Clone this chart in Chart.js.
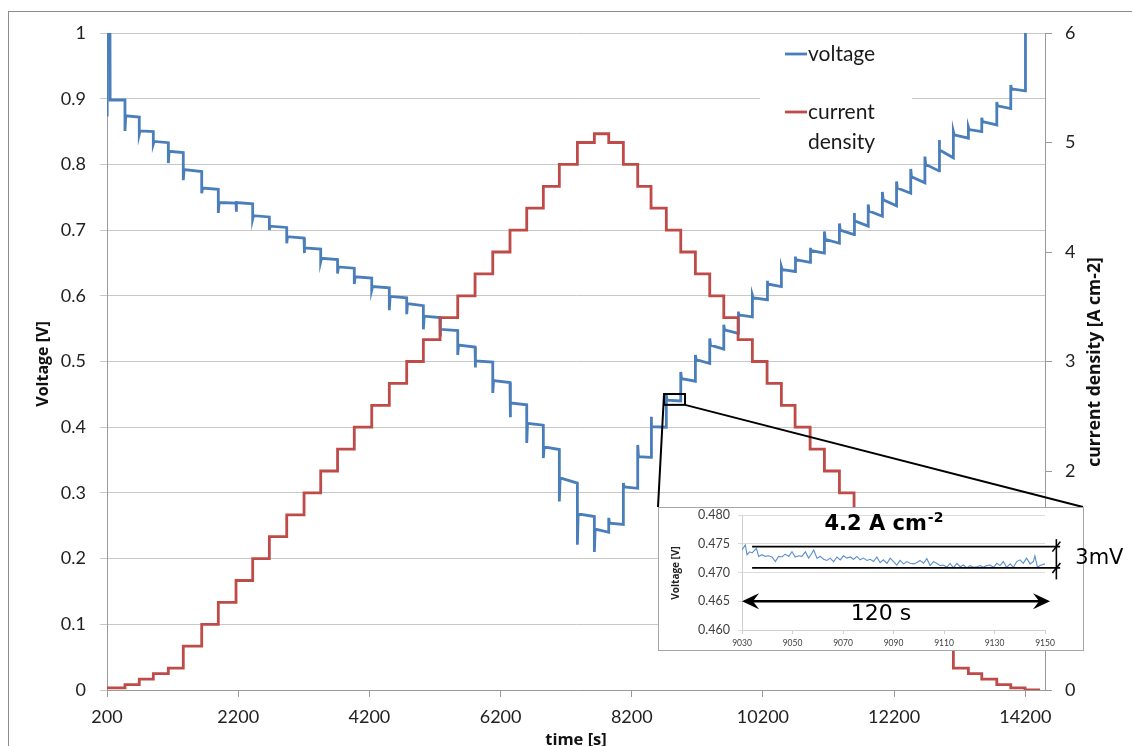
<!DOCTYPE html>
<html><head><meta charset="utf-8">
<script src="https://cdn.jsdelivr.net/npm/chart.js@4.4.0/dist/chart.umd.min.js"></script>
<style>
html,body{margin:0;padding:0;background:#fff;}
#wrap{position:relative;width:1132px;height:746px;overflow:hidden;}
#main{position:absolute;left:0;top:0;}
#inset{position:absolute;left:650px;top:495px;}
</style></head><body>
<div id="wrap"><canvas id="main" width="1132" height="746"></canvas><canvas id="inset" width="482" height="165"></canvas></div>
<script>
// ---------------- DATA ----------------
const xTickValues = [200, 2200, 4200, 6200, 8200, 10200, 12200, 14200];
const startTime = 200;
const startCurrent = 0.02;
const endTime = 14425;
// times at which the current density is changed [s]
const stepTimes = [474, 692, 906, 1135, 1363, 1644, 1897, 2167, 2421, 2675, 2940, 3204, 3458, 3715, 3970, 4236, 4504, 4769, 5023, 5277, 5547, 5811, 6081, 6344, 6599, 6852, 7096, 7371, 7630,
  7849, 8072, 8291, 8494, 8727, 8947, 9170, 9389, 9603, 9821, 10039, 10263, 10481, 10690, 10919, 11137, 11366, 11589, 11805, 12021, 12237, 12453, 12669, 12885, 13103, 13332, 13536, 13765, 13978, 14196];
// current density after each change [A cm-2]
const currentLevels = [0.05, 0.1, 0.15, 0.2, 0.4, 0.6, 0.8, 1.0, 1.2, 1.4, 1.6, 1.8, 2.0, 2.2, 2.4, 2.6, 2.8, 3.0, 3.2, 3.4, 3.6, 3.8, 4.0, 4.2, 4.4, 4.6, 4.8, 5.0, 5.08,
  5.0, 4.8, 4.6, 4.4, 4.2, 4.0, 3.8, 3.6, 3.4, 3.2, 3.0, 2.8, 2.6, 2.4, 2.2, 2.0, 1.8, 1.6, 1.4, 1.2, 1.0, 0.8, 0.6, 0.4, 0.2, 0.15, 0.1, 0.05, 0.02, 0.0];
// open-circuit start of the voltage trace
const ocvTimes = [200, 203, 244, 248];
const ocvValues = [0.875, 1.05, 1.05, 0.898];
// voltage at each change: transient extreme, settled value, value at end of the step [V]
const vSpike = [0.851, 0.846, 0.831, 0.802, 0.776, 0.756, 0.726, 0.728, 0.717, 0.700, 0.680, 0.665, 0.652, 0.634, 0.618, 0.609, 0.578, 0.572, 0.549, 0.538, 0.510, 0.491, 0.452, 0.415, 0.376, 0.353, 0.287, 0.221, 0.210,
  0.262, 0.315, 0.373, 0.416, 0.449, 0.484, 0.510, 0.535, 0.556, 0.576, 0.601, 0.623, 0.644, 0.660, 0.673, 0.698, 0.710, 0.726, 0.739, 0.758, 0.774, 0.793, 0.812, 0.837, 0.850, 0.857, 0.871, 0.895, 0.921, 1.05];
const vStart = [0.874, 0.851, 0.835, 0.820, 0.792, 0.764, 0.742, 0.742, 0.722, 0.706, 0.690, 0.673, 0.657, 0.644, 0.629, 0.614, 0.599, 0.588, 0.569, 0.549, 0.525, 0.501, 0.471, 0.437, 0.406, 0.370, 0.323, 0.268, 0.245,
  0.254, 0.309, 0.355, 0.401, 0.441, 0.474, 0.503, 0.525, 0.548, 0.571, 0.597, 0.618, 0.640, 0.655, 0.669, 0.686, 0.700, 0.714, 0.729, 0.746, 0.764, 0.781, 0.800, 0.822, 0.845, 0.853, 0.865, 0.889, 0.915, 1.05];
const vEnd = [0.872, 0.850, 0.833, 0.818, 0.789, 0.762, 0.741, 0.740, 0.720, 0.704, 0.688, 0.671, 0.655, 0.642, 0.627, 0.612, 0.597, 0.585, 0.567, 0.547, 0.522, 0.499, 0.468, 0.434, 0.403, 0.366, 0.315, 0.264, 0.240,
  0.252, 0.307, 0.354, 0.400, 0.440, 0.470, 0.497, 0.519, 0.543, 0.568, 0.594, 0.614, 0.637, 0.651, 0.665, 0.680, 0.693, 0.706, 0.721, 0.737, 0.756, 0.772, 0.790, 0.810, 0.840, 0.850, 0.860, 0.885, 0.912, 1.05];
// zoomed window (inset)
const insetTime = [9030.0, 9031.3, 9032.0, 9033.0, 9034.0, 9035.7, 9036.6, 9037.9, 9039.2, 9040.5, 9041.9, 9043.2, 9044.5, 9045.8, 9047.1, 9048.5, 9049.8, 9051.1, 9052.4, 9053.7, 9055.1, 9056.4, 9057.7, 9058.4, 9059.7, 9061.0, 9062.3, 9063.6, 9064.9, 9066.3, 9067.6, 9068.9, 9070.2, 9071.5, 9072.9, 9074.2, 9075.5, 9076.8, 9078.1, 9079.5, 9080.8, 9082.1, 9083.4, 9084.7, 9086.0, 9087.4, 9088.7, 9090.0, 9091.3, 9092.6, 9094.0, 9095.3, 9096.6, 9097.9, 9099.2, 9100.5, 9101.9, 9103.2, 9104.5, 9105.8, 9107.1, 9108.5, 9109.8, 9111.1, 9112.4, 9113.7, 9115.1, 9116.4, 9117.7, 9119.0, 9120.3, 9121.6, 9123.0, 9124.3, 9125.6, 9126.9, 9128.2, 9129.6, 9130.9, 9132.2, 9133.5, 9134.8, 9136.2, 9137.5, 9138.8, 9140.1, 9141.4, 9142.7, 9144.1, 9145.4, 9146.0, 9147.0, 9148.0, 9150.0];
const insetVolt = [0.4739, 0.4748, 0.4731, 0.4736, 0.4734, 0.4742, 0.4728, 0.4731, 0.4728, 0.4729, 0.4727, 0.4719, 0.4728, 0.4727, 0.4732, 0.4728, 0.4736, 0.4727, 0.4729, 0.4728, 0.4736, 0.4725, 0.4734, 0.4739, 0.4725, 0.4728, 0.4723, 0.4721, 0.4725, 0.4719, 0.4727, 0.4722, 0.4729, 0.4725, 0.4727, 0.4723, 0.4728, 0.4722, 0.4725, 0.4721, 0.4723, 0.4719, 0.4727, 0.4717, 0.4722, 0.4716, 0.4725, 0.4719, 0.4713, 0.4721, 0.4715, 0.4719, 0.4716, 0.4715, 0.4717, 0.4721, 0.4716, 0.4724, 0.4712, 0.4719, 0.4716, 0.4712, 0.4713, 0.4709, 0.4716, 0.4708, 0.4716, 0.4710, 0.4713, 0.4708, 0.4712, 0.4709, 0.4710, 0.4712, 0.4709, 0.4712, 0.4713, 0.4709, 0.4716, 0.4712, 0.4719, 0.4709, 0.4715, 0.4709, 0.4719, 0.4722, 0.4716, 0.4725, 0.4715, 0.4719, 0.4729, 0.4709, 0.4712, 0.4715];
const insetXTicks = [9030, 9050, 9070, 9090, 9110, 9130, 9150];
const insetYTicks = [0.460, 0.465, 0.470, 0.475, 0.480];
const insetTitle = '4.2 A cm';
const insetTitleSup = '-2';
const bandTop = 0.4745, bandBottom = 0.4708;       // 3 mV band
const zoomWindow = {t0: 8692, t1: 9012, v0: 0.434, v1: 0.4505};

// ---------------- STYLE ----------------
const BLUE = '#4a7ebb', RED = '#be4b48', INSET_BLUE = '#5b8fd0';
const GRID = '#c8c8c8', AXIS = '#9a9a9a', TXT = '#222';
const FONT = 'Lato';
const TITLE_FONT = '"Open Sans"';
const SETTLE = 12;
const INSET_POS = {left: 650, top: 495, boxL: 8, boxT: 12, boxR: 433, boxB: 155};

// ---------------- BUILD SERIES ----------------
const currentPts = [{x: startTime, y: startCurrent}];
stepTimes.forEach((t, i) => currentPts.push({x: t, y: currentLevels[i]}));
currentPts.push({x: endTime, y: currentLevels[currentLevels.length - 1]});

const voltagePts = ocvTimes.map((t, i) => ({x: t, y: ocvValues[i]}));
let prevV = ocvValues[ocvValues.length - 1];
stepTimes.forEach((t, i) => {
  voltagePts.push({x: t, y: prevV}, {x: t, y: vSpike[i]}, {x: t + SETTLE, y: vStart[i]});
  prevV = vEnd[i];
});
voltagePts.push({x: endTime, y: prevV});

const insetPts = insetTime.map((t, i) => ({x: t, y: insetVolt[i]}));

// ---------------- MAIN CHART ----------------
const mainDecor = {
  id: 'mainDecor',
  beforeDraw(chart) {
    const c = chart.ctx; c.save();
    c.fillStyle = '#fff'; c.fillRect(0, 0, chart.width, chart.height);
    c.strokeStyle = '#8c8c8c'; c.lineWidth = 1; c.strokeRect(8.5, 11.5, 1400, 900);
    c.restore();
  },
  beforeDatasetsDraw(chart) {
    const c = chart.ctx; c.save();
    c.fillStyle = '#fff'; c.fillRect(760, 40, 152, 116);
    c.restore();
  },
  afterDatasetsDraw(chart) {
    const c = chart.ctx, xs = chart.scales.x, ys = chart.scales.y;
    c.save();
    // zoom rectangle and connectors
    const x0 = xs.getPixelForValue(zoomWindow.t0), x1 = xs.getPixelForValue(zoomWindow.t1);
    const y0 = ys.getPixelForValue(zoomWindow.v1), y1 = ys.getPixelForValue(zoomWindow.v0);
    c.strokeStyle = '#000'; c.lineWidth = 2;
    c.strokeRect(x0, y0, x1 - x0, y1 - y0);
    c.beginPath();
    c.moveTo(x0, y0); c.lineTo(INSET_POS.left + INSET_POS.boxL, INSET_POS.top + INSET_POS.boxT);
    c.moveTo(x1, y1); c.lineTo(INSET_POS.left + INSET_POS.boxR, INSET_POS.top + INSET_POS.boxT);
    c.stroke();
    // legend
    c.lineWidth = 2.8;
    c.strokeStyle = BLUE; c.beginPath(); c.moveTo(785, 54); c.lineTo(807, 54); c.stroke();
    c.strokeStyle = RED; c.beginPath(); c.moveTo(785, 112); c.lineTo(807, 112); c.stroke();
    c.fillStyle = '#1a1a1a'; c.font = '21px ' + FONT; c.textBaseline = 'middle'; c.textAlign = 'left';
    c.fillText('voltage', 808, 54);
    c.fillText('current', 808, 112);
    c.fillText('density', 808, 142);
    c.restore();
  },
  afterDraw(chart) {
    const c = chart.ctx; c.save();
    c.fillStyle = '#111'; c.textAlign = 'center'; c.textBaseline = 'middle';
    c.font = 'bold 16px ' + TITLE_FONT;
    c.save(); c.translate(43, 364); c.rotate(-Math.PI / 2); c.fillText('Voltage [V]', 0, 0); c.restore();
    c.font = 'bold 17.5px ' + TITLE_FONT;
    c.save(); c.translate(1095, 362); c.rotate(-Math.PI / 2); c.fillText('current density [A cm-2]', 0, 0); c.restore();
    c.font = 'bold 16.5px ' + TITLE_FONT;
    c.fillText('time [s]', 576, 740);
    c.restore();
  }
};

const tickFont = {family: FONT, size: 18};
new Chart(document.getElementById('main'), {
  type: 'line',
  data: {datasets: [
    {label: 'voltage', data: voltagePts, yAxisID: 'y', borderColor: BLUE, borderWidth: 2.8, pointRadius: 0, tension: 0, fill: false, order: 1},
    {label: 'current density', data: currentPts, yAxisID: 'y1', borderColor: RED, borderWidth: 2.8, pointRadius: 0, stepped: true, fill: false, order: 0}
  ]},
  options: {
    responsive: false, animation: false, devicePixelRatio: 1,
    layout: {padding: {top: 33, left: 0, right: 0, bottom: 0}},
    plugins: {legend: {display: false}, tooltip: {enabled: false}},
    scales: {
      x: {type: 'linear', min: 200, max: 14500,
        afterBuildTicks: s => { s.ticks = xTickValues.map(v => ({value: v})); },
        afterFit: s => { s.height = 56; },
        grid: {drawOnChartArea: false, tickLength: 7, color: AXIS},
        border: {color: AXIS},
        ticks: {font: tickFont, color: TXT, padding: 9, maxRotation: 0, autoSkip: false, callback: v => String(v)}},
      y: {position: 'left', min: 0, max: 1,
        afterFit: s => { s.width = 107; },
        grid: {color: GRID, tickLength: 7},
        border: {color: AXIS},
        ticks: {stepSize: 0.1, font: tickFont, color: TXT, padding: 14, callback: v => String(+v.toFixed(1))}},
      y1: {position: 'right', min: 0, max: 6,
        afterFit: s => { s.width = 87; },
        grid: {drawOnChartArea: false, tickLength: 7, color: AXIS},
        border: {color: AXIS},
        ticks: {stepSize: 1, font: tickFont, color: TXT, padding: 13, callback: v => String(v)}}
    }
  },
  plugins: [mainDecor]
});

// ---------------- INSET CHART ----------------
function arrowHead(c, x, y, dir) {
  c.beginPath();
  c.moveTo(x, y);
  c.lineTo(x - dir * 17, y - 8);
  c.lineTo(x - dir * 11, y);
  c.lineTo(x - dir * 17, y + 8);
  c.closePath(); c.fill();
}
const insetDecor = {
  id: 'insetDecor',
  beforeDraw(chart) {
    const c = chart.ctx, b = INSET_POS; c.save();
    c.fillStyle = '#fff'; c.fillRect(b.boxL, b.boxT, b.boxR - b.boxL, b.boxB - b.boxT);
    c.strokeStyle = '#a6a6a6'; c.lineWidth = 1;
    c.strokeRect(b.boxL + 0.5, b.boxT + 0.5, b.boxR - b.boxL, b.boxB - b.boxT);
    c.restore();
  },
  afterDraw(chart) {
    const c = chart.ctx, xs = chart.scales.x, ys = chart.scales.y; c.save();
    c.fillStyle = '#000'; c.strokeStyle = '#000';
    // band lines
    c.lineWidth = 1.6;
    const lx0 = xs.getPixelForValue(9034), lx1 = xs.getPixelForValue(9156);
    [bandTop, bandBottom].forEach(v => {
      const y = ys.getPixelForValue(v);
      c.beginPath(); c.moveTo(lx0, y); c.lineTo(lx1, y); c.stroke();
    });
    // dimension marker
    const dx = xs.getPixelForValue(9154.5);
    const dy0 = ys.getPixelForValue(0.4758), dy1 = ys.getPixelForValue(0.4688);
    c.lineWidth = 1.6;
    c.beginPath(); c.moveTo(dx, dy0); c.lineTo(dx, dy1); c.stroke();
    [bandTop, bandBottom].forEach(v => {
      const y = ys.getPixelForValue(v);
      c.beginPath(); c.moveTo(dx - 4, y + 5); c.lineTo(dx + 4, y - 5); c.stroke();
    });
    // 120 s double arrow
    const ay = ys.getPixelForValue(0.465);
    const ax0 = xs.getPixelForValue(9030), ax1 = xs.getPixelForValue(9152);
    c.lineWidth = 2.6;
    c.beginPath(); c.moveTo(ax0 + 8, ay); c.lineTo(ax1 - 8, ay); c.stroke();
    arrowHead(c, ax0, ay, -1); arrowHead(c, ax1, ay, 1);
    // texts
    c.textBaseline = 'middle';
    c.font = '22px "DejaVu Sans"'; c.textAlign = 'center';
    c.fillText('120 s', xs.getPixelForValue(9085), ys.getPixelForValue(0.4628));
    c.textAlign = 'left'; c.font = '21px "DejaVu Sans"';
    c.fillText('3mV', xs.getPixelForValue(9162), ys.getPixelForValue(0.47247));
    // title with superscript
    c.font = 'bold 21px "DejaVu Sans"';
    const w1 = c.measureText(insetTitle).width;
    c.font = 'bold 14px "DejaVu Sans"';
    const w2 = c.measureText(insetTitleSup).width;
    const tx = xs.getPixelForValue(9086) - (w1 + w2) / 2, ty = ys.getPixelForValue(0.47826);
    c.font = 'bold 21px "DejaVu Sans"'; c.fillText(insetTitle, tx, ty);
    c.font = 'bold 14px "DejaVu Sans"'; c.fillText(insetTitleSup, tx + w1 + 1, ty - 7);
    // y title
    c.font = 'bold 10px ' + TITLE_FONT; c.textAlign = 'center'; c.fillStyle = '#222';
    c.save(); c.translate(26, 78); c.rotate(-Math.PI / 2); c.fillText('Voltage [V]', 0, 0); c.restore();
    c.restore();
  }
};

new Chart(document.getElementById('inset'), {
  type: 'line',
  data: {datasets: [{label: 'voltage', data: insetPts, borderColor: INSET_BLUE, borderWidth: 1.1, pointRadius: 0, tension: 0, fill: false}]},
  options: {
    responsive: false, animation: false, devicePixelRatio: 1,
    layout: {padding: {top: 20, left: 32, right: 87, bottom: 8}},
    plugins: {legend: {display: false}, tooltip: {enabled: false}},
    scales: {
      x: {type: 'linear', min: 9030, max: 9150,
        afterBuildTicks: s => { s.ticks = insetXTicks.map(v => ({value: v})); },
        afterFit: s => { s.height = 22; },
        grid: {drawOnChartArea: false, tickLength: 4, color: '#d0d0d0'},
        border: {color: '#d0d0d0'},
        ticks: {font: {family: FONT, size: 8.5}, color: '#404040', padding: 4, maxRotation: 0, autoSkip: false, callback: v => String(v)}},
      y: {min: 0.46, max: 0.48,
        afterBuildTicks: s => { s.ticks = insetYTicks.map(v => ({value: v})); },
        afterFit: s => { s.width = 60; },
        grid: {color: '#dcdcdc', tickLength: 4},
        border: {color: '#d0d0d0'},
        ticks: {font: {family: FONT, size: 12.5}, color: '#404040', padding: 8, callback: v => v.toFixed(3)}}
    }
  },
  plugins: [insetDecor]
});
</script></body></html>
